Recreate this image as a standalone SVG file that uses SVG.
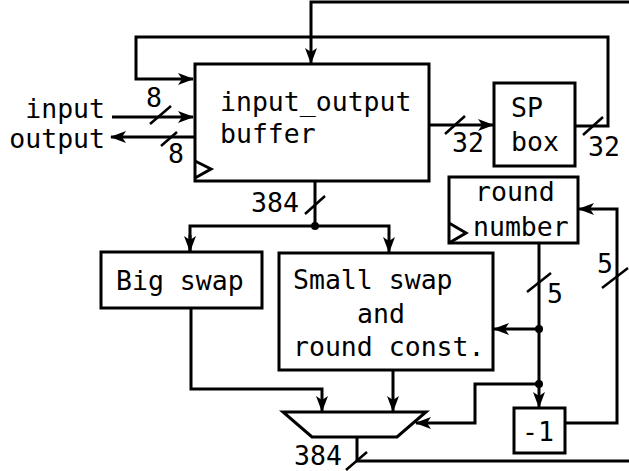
<svg xmlns="http://www.w3.org/2000/svg" width="629" height="471" viewBox="0 0 629 471">
<style>
  .box{fill:#fff;stroke:#000;stroke-width:3}
  .ln{fill:none;stroke:#000;stroke-width:3}
  .sl{fill:none;stroke:#000;stroke-width:2.5}
  text{font-family:"DejaVu Sans Mono","Liberation Mono",monospace;font-size:26.5px;fill:#000}
</style>
<defs>
  <marker id="ah" viewBox="0 0 16 12" refX="15" refY="6" markerWidth="16" markerHeight="12" markerUnits="userSpaceOnUse" orient="auto">
    <path d="M0,0 L16,6 L0,12 L4,6 z" fill="#000"/>
  </marker>
</defs>
<rect width="629" height="471" fill="#fff"/>
<g id="connectors">
  <polyline class="ln" points="629,2 311,2 311,63" marker-end="url(#ah)"/>
  <polyline class="ln" points="575,126 608,126 608,37 136,37 136,79 193,79" marker-end="url(#ah)"/>
  <line class="ln" x1="429" y1="125" x2="493" y2="125" marker-end="url(#ah)"/>
  <line class="ln" x1="112" y1="117" x2="193" y2="117" marker-end="url(#ah)"/>
  <line class="ln" x1="194" y1="137" x2="111" y2="137" marker-end="url(#ah)"/>
  <line class="ln" x1="315" y1="181" x2="315" y2="226"/>
  <polyline class="ln" points="190,251 190,226 389,226 389,252" marker-end="url(#ah)"/>
  <line class="ln" x1="190" y1="235" x2="190" y2="251" marker-end="url(#ah)"/>
  <circle cx="315" cy="226" r="4"/>
  <polyline class="ln" points="191,308 191,389 322,389 322,411" marker-end="url(#ah)"/>
  <line class="ln" x1="393" y1="370" x2="393" y2="411" marker-end="url(#ah)"/>
  <polyline class="ln" points="357,437 357,461 629,461"/>
  <line class="ln" x1="539" y1="243" x2="539" y2="407" marker-end="url(#ah)"/>
  <circle cx="539" cy="329" r="4"/>
  <circle cx="539" cy="384" r="4"/>
  <line class="ln" x1="539" y1="329" x2="494" y2="329" marker-end="url(#ah)"/>
  <polyline class="ln" points="539,384 475,384 475,423 416,423" marker-end="url(#ah)"/>
  <polyline class="ln" points="565,423 617,423 617,209 579,209" marker-end="url(#ah)"/>
  <!-- bus width slashes -->
  <line class="sl" x1="150" y1="124" x2="171" y2="106"/>
  <line class="sl" x1="161" y1="146" x2="177" y2="132"/>
  <line class="sl" x1="445" y1="134" x2="465" y2="116"/>
  <line class="sl" x1="583" y1="135" x2="603" y2="117"/>
  <line class="sl" x1="305" y1="214" x2="325" y2="196"/>
  <line class="sl" x1="527" y1="292" x2="551" y2="273"/>
  <line class="sl" x1="602" y1="288" x2="628" y2="268"/>
  <line class="sl" x1="346" y1="470" x2="367" y2="452"/>
  <!-- labels -->
  <text x="105" y="118" text-anchor="end">input</text>
  <text x="105" y="148" text-anchor="end">output</text>
  <text x="146" y="107">8</text>
  <text x="168" y="163">8</text>
  <text x="452" y="152">32</text>
  <text x="588" y="156">32</text>
  <text x="251" y="212">384</text>
  <text x="547" y="303">5</text>
  <text x="597" y="273">5</text>
  <text x="294" y="465">384</text>
</g>
<g id="buffer">
  <rect class="box" x="195" y="64" width="234" height="117"/>
  <polyline class="ln" points="195,161 211,169 195,178"/>
  <text x="220" y="111">input_output</text>
  <text x="220" y="143">buffer</text>
</g>
<g id="spbox">
  <rect class="box" x="494" y="83" width="81" height="83"/>
  <text x="511" y="117">SP</text>
  <text x="511" y="151">box</text>
</g>
<g id="roundnumber">
  <rect class="box" x="449" y="177" width="129" height="66"/>
  <polyline class="ln" points="449,223 466,233 449,243"/>
  <text x="475" y="201">round</text>
  <text x="473" y="236">number</text>
</g>
<g id="bigswap">
  <rect class="box" x="101" y="252" width="161" height="56"/>
  <text x="116" y="290">Big swap</text>
</g>
<g id="smallswap">
  <rect class="box" x="279" y="253" width="214" height="117"/>
  <text x="293" y="289">Small swap</text>
  <text x="357" y="323">and</text>
  <text x="293" y="356">round const.</text>
</g>
<g id="mux">
  <polygon class="box" points="283,412 426,412 397,437 312,437"/>
</g>
<g id="minus1">
  <rect class="box" x="514" y="408" width="51" height="45"/>
  <text x="522" y="441">-1</text>
</g>
</svg>
